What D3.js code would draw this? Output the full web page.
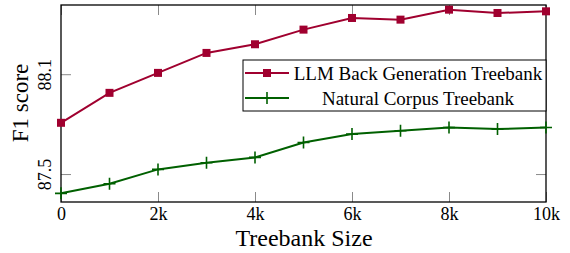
<!DOCTYPE html>
<html>
<head>
<meta charset="utf-8">
<script src="https://cdn.jsdelivr.net/npm/d3@7"></script>
<style>
  body { margin: 0; background: #fff; }
</style>
</head>
<body>
<script>
// data
var sizes = [0, 1000, 2000, 3000, 4000, 5000, 6000, 7000, 8000, 9000, 10000];
var llmScores = [87.808, 87.988, 88.108, 88.228, 88.28, 88.368, 88.438, 88.428, 88.488, 88.468, 88.478];
var naturalScores = [87.384, 87.442, 87.528, 87.568, 87.6, 87.69, 87.74, 87.76, 87.78, 87.77, 87.78];
var xTicks = [0, 2000, 4000, 6000, 8000, 10000];
var xTickLabels = ["0", "2k", "4k", "6k", "8k", "10k"];
var yTicks = [87.5, 88.1];
var seriesNames = ["LLM Back Generation Treebank", "Natural Corpus Treebank"];

var W = 570, H = 253;
var margin = {top: 5, right: 24, bottom: 51, left: 61};
var width = W - margin.left - margin.right,
    height = H - margin.top - margin.bottom;

var red = "#a0002f", green = "#006000";
var serif = "Liberation Serif";

var x = d3.scaleLinear().domain([0, 10000]).range([0, width]);
var y = d3.scaleLinear().domain([87.332, 88.516]).range([height, 0]);

var svg = d3.select("body").append("svg").attr("width", W).attr("height", H)
  .append("g").attr("transform", "translate(" + margin.left + "," + margin.top + ")");

// ticks inside the box, gray, on all four sides
var tickLen = 10;
function innerTicks(sel) {
  sel.selectAll(".domain").remove();
  sel.selectAll(".tick line").attr("stroke", "#8a8a8a").attr("stroke-width", 1);
  sel.selectAll("text").attr("font-family", serif).attr("fill", "#000");
}
svg.append("g").attr("transform", "translate(0," + height + ")")
  .call(d3.axisBottom(x).tickValues(xTicks).tickSize(-tickLen).tickPadding(5)
    .tickFormat(function(d, i) { return xTickLabels[i]; }))
  .call(innerTicks)
  .selectAll("text").attr("font-size", 18);
svg.append("g")
  .call(d3.axisTop(x).tickValues(xTicks).tickSize(-tickLen).tickFormat(""))
  .call(innerTicks);
var yAx = svg.append("g")
  .call(d3.axisLeft(y).tickValues(yTicks).tickSize(-tickLen).tickFormat(d3.format(".1f")))
  .call(innerTicks);
yAx.selectAll(".tick text")
  .attr("font-size", 18)
  .attr("x", null).attr("dy", null)
  .attr("text-anchor", "middle")
  .attr("transform", "translate(-10,0) rotate(-90)");
svg.append("g").attr("transform", "translate(" + width + ",0)")
  .call(d3.axisRight(y).tickValues(yTicks).tickSize(-tickLen).tickFormat(""))
  .call(innerTicks);

svg.append("rect").attr("width", width).attr("height", height)
  .attr("fill", "none").attr("stroke", "#000").attr("stroke-width", 1.3);

var line = function(vals) {
  return d3.line().x(function(d, i) { return x(sizes[i]); }).y(function(d) { return y(d); })(vals);
};

// green series
svg.append("path").attr("d", line(naturalScores))
  .attr("fill", "none").attr("stroke", green).attr("stroke-width", 2);
svg.selectAll(".plus").data(naturalScores).enter().append("path")
  .attr("d", function(d, i) {
    var px = x(sizes[i]), py = y(d);
    return "M" + (px - 6) + "," + py + "H" + (px + 6) + "M" + px + "," + (py - 6) + "V" + (py + 6);
  })
  .attr("stroke", green).attr("stroke-width", 1.6);

// red series
svg.append("path").attr("d", line(llmScores))
  .attr("fill", "none").attr("stroke", red).attr("stroke-width", 2);
svg.selectAll(".sq").data(llmScores).enter().append("rect")
  .attr("x", function(d, i) { return x(sizes[i]) - 4; })
  .attr("y", function(d) { return y(d) - 4; })
  .attr("width", 8).attr("height", 8).attr("fill", red);

// legend
var lg = svg.append("g").attr("transform", "translate(" + (243 - margin.left) + "," + (60 - margin.top) + ")");
var lgW = width - (243 - margin.left);
lg.append("rect").attr("width", lgW).attr("height", 51)
  .attr("fill", "#fff").attr("stroke", "#000").attr("stroke-width", 1);
var colors = [red, green];
seriesNames.forEach(function(name, i) {
  var cy = 13 + i * 25;
  lg.append("line").attr("x1", 2).attr("x2", 46).attr("y1", cy).attr("y2", cy)
    .attr("stroke", colors[i]).attr("stroke-width", 2);
  if (i === 0) {
    lg.append("rect").attr("x", 20).attr("y", cy - 4).attr("width", 8).attr("height", 8).attr("fill", red);
  } else {
    lg.append("path").attr("d", "M24," + (cy - 6) + "V" + (cy + 6))
      .attr("stroke", green).attr("stroke-width", 1.6);
  }
  lg.append("text").attr("x", 175).attr("y", cy).attr("dy", "0.35em")
    .attr("font-family", serif).attr("text-anchor", "middle").attr("font-size", 19).text(name);
});

// axis titles
svg.append("text").attr("x", 243).attr("y", height + 44)
  .attr("font-family", serif).attr("text-anchor", "middle").attr("font-size", 24).text("Treebank Size");
svg.append("text").attr("transform", "translate(-33," + (103 - margin.top) + ") rotate(-90)")
  .attr("font-family", serif).attr("text-anchor", "middle").attr("font-size", 23).text("F1 score");
</script>
</body>
</html>
